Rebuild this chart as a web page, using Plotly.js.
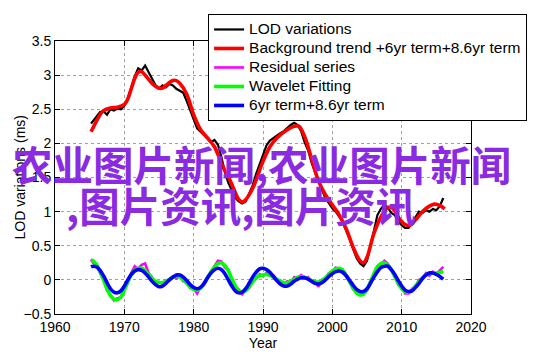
<!DOCTYPE html>
<html>
<head>
<meta charset="utf-8">
<script src="https://cdn.plot.ly/plotly-3.0.1.min.js"></script>
<style>html,body{margin:0;padding:0;background:#fff;}#chart{width:542px;height:356px;}</style>
</head>
<body>
<div id="chart"></div>
<script>
// Shared half-year grid
const years = [1965.2,1965.5,1966,1966.5,1967,1967.5,1968,1968.5,1969,1969.5,1970,1970.5,1971,1971.5,1972,1972.5,1973,1973.5,1974,1974.5,1975,1975.5,1976,1976.5,1977,1977.5,1978,1978.5,1979,1979.5,1980,1980.5,1981,1981.5,1982,1982.5,1983,1983.5,1984,1984.5,1985,1985.5,1986,1986.5,1987,1987.5,1988,1988.5,1989,1989.5,1990,1990.5,1991,1991.5,1992,1992.5,1993,1993.5,1994,1994.5,1995,1995.5,1996,1996.5,1997,1997.5,1998,1998.5,1999,1999.5,2000,2000.5,2001,2001.5,2002,2002.5,2003,2003.5,2004,2004.5,2005,2005.5,2006,2006.5,2007,2007.5,2008,2008.5,2009,2009.5,2010,2010.5,2011,2011.5,2012,2012.5,2013,2013.5,2014,2014.5,2015,2015.5,2016];

const lod = [2.29,2.33,2.40,2.46,2.47,2.42,2.50,2.48,2.51,2.50,2.55,2.66,2.82,2.98,3.10,3.07,3.14,3.04,2.95,2.85,2.80,2.85,2.82,2.87,2.85,2.80,2.77,2.74,2.62,2.48,2.33,2.22,2.17,2.12,2.06,2.02,2.05,1.98,1.80,1.58,1.42,1.30,1.20,1.15,1.12,1.15,1.26,1.38,1.55,1.70,1.85,1.97,2.04,2.08,2.12,2.15,2.18,2.23,2.27,2.30,2.27,2.18,2.02,1.90,1.72,1.58,1.44,1.32,1.20,1.12,1.05,1.00,0.93,0.85,0.72,0.60,0.45,0.32,0.24,0.20,0.28,0.48,0.72,0.95,1.04,1.10,1.06,0.98,0.95,0.86,0.80,0.76,0.76,0.84,0.92,1.00,0.98,1.02,1.00,1.04,1.02,1.08,1.20];

const trendYears = [1965.2,1966,1966.5,1967,1968,1969,1970,1970.5,1971,1971.5,1972,1972.5,1973,1974,1975,1975.5,1976,1977,1977.5,1978,1979,1980,1981,1982,1983,1983.8,1984.5,1985.3,1986,1986.5,1987.1,1987.7,1988.6,1989.9,1991,1992,1993.5,1994.5,1995.2,1996,1997,1998,1999,2000,2001,2002,2003,2004,2004.5,2005,2006,2007,2008,2008.7,2009.5,2010.5,2011.2,2012,2013,2014,2014.7,2015.5,2016.2];
const trend = [2.17,2.33,2.42,2.48,2.52,2.53,2.57,2.65,2.80,2.95,3.04,3.05,3.00,2.88,2.81,2.81,2.85,2.92,2.92,2.88,2.72,2.42,2.20,2.08,1.95,1.76,1.60,1.45,1.28,1.18,1.14,1.20,1.36,1.71,1.95,2.08,2.20,2.25,2.25,2.10,1.78,1.45,1.25,1.10,0.95,0.75,0.48,0.28,0.25,0.33,0.68,0.92,1.06,1.05,0.92,0.81,0.80,0.88,1.00,1.08,1.11,1.09,1.04];

const residual = [0.30,0.25,0.22,0.10,0.02,-0.15,-0.22,-0.30,-0.27,-0.26,-0.12,-0.05,0.10,0.20,0.16,0.22,0.24,0.10,0.04,-0.05,-0.03,-0.06,-0.01,0.00,0.05,0.02,0.06,-0.02,-0.03,-0.12,-0.13,-0.20,-0.10,-0.08,0.05,0.10,0.20,0.28,0.27,0.18,0.15,0.00,-0.10,-0.14,-0.21,-0.15,-0.12,0.00,0.02,0.08,0.06,0.10,0.06,0.07,0.00,-0.01,-0.06,-0.02,-0.04,0.04,0.03,0.07,0.02,0.04,-0.03,-0.02,-0.10,0.00,0.02,0.10,0.12,0.18,0.15,0.15,0.05,-0.02,-0.14,-0.17,-0.20,-0.20,-0.16,-0.01,0.07,0.20,0.22,0.28,0.24,0.14,0.07,-0.07,-0.11,-0.20,-0.20,-0.13,-0.10,0.00,0.02,0.10,0.06,0.12,0.08,0.14,0.19];

const wavelet = [0.29,0.28,0.22,0.12,0.00,-0.13,-0.23,-0.28,-0.29,-0.25,-0.15,-0.03,0.07,0.14,0.17,0.17,0.14,0.08,0.02,-0.02,-0.04,-0.04,-0.02,0.01,0.04,0.05,0.04,0.00,-0.05,-0.10,-0.14,-0.15,-0.12,-0.06,0.03,0.12,0.19,0.24,0.25,0.21,0.13,0.02,-0.09,-0.16,-0.18,-0.16,-0.10,-0.03,0.03,0.06,0.07,0.08,0.07,0.04,0.01,-0.02,-0.04,-0.04,-0.02,0.01,0.04,0.05,0.04,0.02,-0.01,-0.03,-0.03,-0.01,0.03,0.08,0.13,0.16,0.17,0.14,0.07,-0.03,-0.12,-0.19,-0.22,-0.21,-0.14,-0.03,0.09,0.19,0.24,0.25,0.22,0.15,0.05,-0.05,-0.13,-0.17,-0.18,-0.15,-0.09,-0.03,0.03,0.07,0.10,0.10,0.10,0.11,0.12];

const periodic = [0.19,0.20,0.19,0.14,0.06,-0.04,-0.13,-0.18,-0.19,-0.16,-0.09,0.00,0.08,0.13,0.15,0.14,0.10,0.04,-0.02,-0.07,-0.10,-0.09,-0.05,0.00,0.04,0.07,0.07,0.04,-0.01,-0.07,-0.11,-0.13,-0.11,-0.05,0.03,0.10,0.15,0.17,0.15,0.09,0.00,-0.09,-0.16,-0.19,-0.18,-0.13,-0.05,0.04,0.11,0.16,0.17,0.15,0.11,0.05,-0.01,-0.06,-0.09,-0.09,-0.06,-0.02,0.01,0.03,0.03,0.01,-0.02,-0.05,-0.06,-0.04,0.00,0.05,0.09,0.12,0.13,0.11,0.06,-0.01,-0.08,-0.14,-0.17,-0.17,-0.13,-0.05,0.04,0.12,0.18,0.20,0.20,0.15,0.08,-0.01,-0.09,-0.15,-0.17,-0.16,-0.11,-0.05,0.02,0.07,0.10,0.10,0.08,0.05,0.01];

const names = ['LOD variations','Background trend +6yr term+8.6yr term','Residual series','Wavelet Fitting','6yr term+8.6yr term'];
const xTicks = [1960,1970,1980,1990,2000,2010,2020];
const yTicks = [-0.5,0,0.5,1,1.5,2,2.5,3,3.5];
const xTitle = 'Year';
const yTitle = 'LOD variations (ms)';
const overlayLines = ['农业图片新闻,农业图片新闻', ',图片资讯,图片资讯'];

const legendLabel = s => '<span style="font-size:15.5px">' + s + '</span>';

const traces = [
  {x: years, y: lod, name: legendLabel(names[0]), mode: 'lines', line: {color: '#000000', width: 2.2}},
  {x: trendYears, y: trend, name: legendLabel(names[1]), mode: 'lines', line: {color: '#ff0000', width: 3.6, shape: 'spline'}},
  {x: years, y: residual, name: legendLabel(names[2]), mode: 'lines', line: {color: '#ff00ff', width: 2.6}},
  {x: years, y: wavelet, name: legendLabel(names[3]), mode: 'lines', line: {color: '#00ff00', width: 3.6, shape: 'spline'}},
  {x: years, y: periodic, name: legendLabel(names[4]), mode: 'lines', line: {color: '#0000ff', width: 3.6, shape: 'spline'}}
];

const axisCommon = {
  showline: true, linecolor: '#000', linewidth: 1, mirror: 'ticks',
  ticks: 'inside', ticklen: 5, tickcolor: '#000', tickwidth: 1,
  showgrid: true, gridcolor: '#a0a0a0', griddash: 'dot', gridwidth: 1,
  zeroline: false, tickfont: {family: 'Liberation Sans, Arial, sans-serif', size: 14, color: '#000'}
};

const layout = {
  width: 542, height: 356,
  margin: {l: 55, r: 71, t: 41, b: 42, pad: 0},
  paper_bgcolor: '#fff', plot_bgcolor: '#fff',
  font: {family: 'Liberation Sans, Arial, sans-serif', size: 14, color: '#000'},
  xaxis: Object.assign({}, axisCommon, {range: [1960, 2020], tickvals: xTicks, ticktext: xTicks.map(String),
    title: {text: xTitle, font: {size: 14}, standoff: 0}}),
  yaxis: Object.assign({}, axisCommon, {range: [-0.5, 3.5], tickvals: yTicks,
    ticktext: yTicks.map(v => (v < 0 ? '\u2212' + Math.abs(v) : String(v)))}),
  showlegend: true,
  legend: {x: 0.368, y: 1.099, xanchor: 'left', yanchor: 'top', bgcolor: '#fff', bordercolor: '#000', borderwidth: 1,
    font: {size: 12}, tracegroupgap: 0, itemwidth: 30},
  annotations: [
    {text: yTitle, xref: 'paper', yref: 'paper', x: (19 - 55) / 416, y: 0.5, textangle: -90,
     xanchor: 'center', yanchor: 'middle', showarrow: false,
     font: {family: 'Liberation Sans, Arial, sans-serif', size: 14, color: '#000'}},
    {text: '<b>' + overlayLines[0] + '</b>', xref: 'paper', yref: 'paper', x: (10 - 55) / 416, y: (314 - 163) / 273,
     xanchor: 'left', yanchor: 'middle', showarrow: false,
     font: {family: 'Noto Sans CJK SC, sans-serif', size: 40.5, color: '#8a2be2'}},
    {text: '<b>' + overlayLines[1] + '</b>', xref: 'paper', yref: 'paper', x: (64 - 55) / 416, y: (314 - 204) / 273,
     xanchor: 'left', yanchor: 'middle', showarrow: false,
     font: {family: 'Noto Sans CJK SC, sans-serif', size: 40.5, color: '#8a2be2'}}
  ]
};

Plotly.newPlot('chart', traces, layout, {displayModeBar: false, staticPlot: true});
</script>
</body>
</html>
